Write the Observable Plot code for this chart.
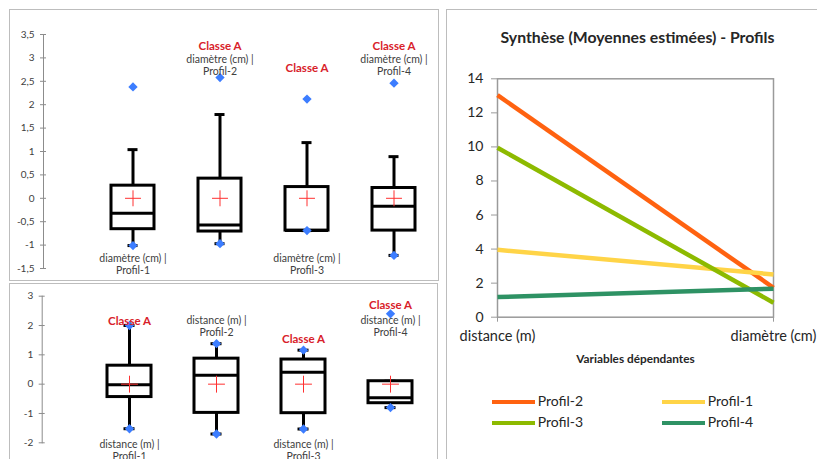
<!DOCTYPE html>
<html><head><meta charset="utf-8">
<script src="https://cdn.jsdelivr.net/npm/d3@7"></script>
<script src="https://cdn.jsdelivr.net/npm/@observablehq/plot@0.6"></script>
<style>
body{margin:0;background:#fff;}
#root{position:relative;width:817px;height:459px;overflow:hidden;font-family:Lato,"Open Sans",sans-serif;}
.panel{position:absolute;border:1px solid #bdbdbd;box-sizing:border-box;}
.abs{position:absolute;}
.leg{position:absolute;font-size:14px;color:#262626;line-height:16px;}
.sw{position:absolute;height:4px;}
</style></head><body><div id="root"></div>
<script>
const profiles = ["Profil-1","Profil-2","Profil-3","Profil-4"];

// Boîtes : diamètre (cm)
const diamLow    = [-1.01, -0.97, -0.69, -1.22];
const diamQ1     = [-0.66, -0.71, -0.69, -0.69];
const diamMedian = [-0.32, -0.57, -0.69, -0.17];
const diamQ3     = [ 0.27,  0.42,  0.24,  0.22];
const diamHigh   = [ 1.04,  1.79,  1.19,  0.89];
const diamMean   = [ 0, 0, 0, 0];
const diamMin    = [-1.01, -0.97, -0.69, -1.22];
const diamMax    = [ 2.38,  2.58,  2.12,  2.46];
const diamTicks  = [-1.5, -1, -0.5, 0, 0.5, 1, 1.5, 2, 2.5, 3, 3.5];

// Boîtes : distance (m)
const distLow    = [-1.52, -1.70, -1.53, -0.80];
const distQ1     = [-0.44, -0.98, -0.99, -0.65];
const distMedian = [-0.02,  0.30,  0.41, -0.46];
const distQ3     = [ 0.63,  0.87,  0.84,  0.10];
const distHigh   = [ 2.00,  1.38,  1.16,  0.10];
const distMean   = [ 0, 0, 0, 0];
const distMin    = [-1.52, -1.70, -1.53, -0.80];
const distMax    = [ 2.00,  1.38,  1.16,  2.40];
const distTicks  = [-2, -1, 0, 1, 2, 3];

// Labels
const classeText = "Classe A";
const diamClasseHigh = ["Profil-2", "Profil-4"];
const diamClasseLow  = ["Profil-3"];
const diamNameAbove  = ["Profil-2", "Profil-4"];
const diamNameBelow  = ["Profil-1", "Profil-3"];
const distClasseA = ["Profil-4"];
const distClasseB = ["Profil-1"];
const distClasseC = ["Profil-3"];
const distNameAbove = ["Profil-2", "Profil-4"];
const distNameBelow = ["Profil-1", "Profil-3"];

// Synthèse
const variables = ["distance (m)", "diamètre (cm)"];
const seriesNames = ["Profil-2", "Profil-1", "Profil-3", "Profil-4"];
const profil2 = [13.04, 1.73];
const profil1 = [3.96, 2.51];
const profil3 = [9.95, 0.85];
const profil4 = [1.18, 1.67];
const seriesColors = ["#FF6210", "#FFD447", "#8DBA00", "#2E9264"];
const synthTicks = [0, 2, 4, 6, 8, 10, 12, 14];
const synthTitle = "Synthèse (Moyennes estimées) - Profils";
const synthXTitle = "Variables dépendantes";

const root = document.getElementById("root");
const comma = d => String(d).replace(".", ",");
const FONT = "Lato, 'Open Sans', sans-serif";

function panel(l, t, w, h) {
  const d = document.createElement("div");
  d.className = "panel";
  Object.assign(d.style, {left: l + "px", top: t + "px", width: w + "px", height: h + "px"});
  root.appendChild(d);
}
panel(9, 9, 430, 272);
panel(9, 283, 429, 200);
panel(446, 9, 380, 480);

function place(node, l, t) {
  node.classList.add("abs");
  node.style.left = l + "px"; node.style.top = t + "px";
  root.appendChild(node);
}

function boxPlot(cfg) {
  const rows = profiles.map((p, i) => ({
    profile: p, low: cfg.low[i], q1: cfg.q1[i], median: cfg.median[i], q3: cfg.q3[i],
    high: cfg.high[i], mean: cfg.mean[i]
  }));
  const pts = profiles.flatMap((p, i) => [{profile: p, v: cfg.min[i]}, {profile: p, v: cfg.max[i]}]);
  const nameData = (list) => list.map(p => ({profile: p, t: `${cfg.varName} |\n${p}`}));
  const classe = (list, dy) => Plot.text(list, {x: d => d, text: () => classeText, frameAnchor: "top", dy,
    fill: "#D8212A", fontWeight: "bold", fontSize: 11.5});
  return Plot.plot({
    width: cfg.width, height: cfg.height,
    marginTop: cfg.mt, marginBottom: cfg.mb, marginLeft: cfg.ml, marginRight: 0,
    x: {type: "band", domain: profiles, range: cfg.xr, paddingInner: cfg.pad, paddingOuter: 0, axis: null},
    y: {domain: cfg.domain, label: null},
    style: {fontFamily: FONT, background: "transparent", overflow: "visible"},
    marks: [
      Plot.frame({anchor: "left", stroke: "#8c8c8c"}),
      Plot.axisY(cfg.ticks, {tickSize: 6, dx: 3, tickPadding: cfg.tp, tickFormat: comma, stroke: "#8c8c8c",
        fill: "#404040", fontSize: 10, label: null}),
      Plot.ruleX(rows, {x: "profile", y1: "low", y2: "high", stroke: "#000", strokeWidth: 3}),
      Plot.tickY(rows, {x: "profile", y: "high", stroke: "#000", strokeWidth: 3, insetLeft: 16.5, insetRight: 16.5}),
      Plot.tickY(rows, {x: "profile", y: "low", stroke: "#000", strokeWidth: 3, insetLeft: 16.5, insetRight: 16.5}),
      Plot.barY(rows, {x: "profile", y1: "q1", y2: "q3", fill: "#fff", stroke: "#000", strokeWidth: 3}),
      Plot.tickY(rows, {x: "profile", y: "median", stroke: "#000", strokeWidth: 3}),
      Plot.dot(rows, {x: "profile", y: "mean", symbol: "plus", r: cfg.plusR, stroke: "#FF3030", strokeWidth: 1}),
      Plot.dot(pts, {x: "profile", y: "v", symbol: "diamond2", r: 4.2, fill: "#3C7DFF", stroke: null}),
      ...cfg.classe.map(([list, dy]) => classe(list, dy)),
      Plot.text(nameData(cfg.above), {x: "profile", text: "t", frameAnchor: "top", dy: cfg.aboveDy,
        fill: "#404040", fontSize: 10.5, lineHeight: 1.15}),
      Plot.text(nameData(cfg.below), {x: "profile", text: "t", frameAnchor: "top", dy: cfg.belowDy,
        fill: "#404040", fontSize: 10.5, lineHeight: 1.15})
    ]
  });
}

const p1 = boxPlot({
  width: 429, height: 271, mt: 25, mb: 12, ml: 34, tp: 6, plusR: 5.2,
  xr: [100.5, 406.5], pad: 0.51, domain: [-1.5, 3.5], ticks: diamTicks,
  low: diamLow, q1: diamQ1, median: diamMedian, q3: diamQ3, high: diamHigh, mean: diamMean,
  min: diamMin, max: diamMax, varName: "diamètre (cm)",
  classe: [[diamClasseHigh, 7], [diamClasseLow, 29]],
  above: diamNameAbove, aboveDy: 19.5, below: diamNameBelow, belowDy: 219
});
place(p1, 9, 9);

const p2 = boxPlot({
  width: 428, height: 176, mt: 12.7, mb: 16.7, ml: 32.7, tp: 6, plusR: 5.5,
  xr: [97, 404], pad: 0.498, domain: [-2, 3], ticks: distTicks,
  low: distLow, q1: distQ1, median: distMedian, q3: distQ3, high: distHigh, mean: distMean,
  min: distMin, max: distMax, varName: "distance (m)",
  classe: [[distClasseA, 5], [distClasseB, 20.5], [distClasseC, 38.5]],
  above: distNameAbove, aboveDy: 19.3, below: distNameBelow, belowDy: 143.3
});
place(p2, 9, 283);

const seriesValues = [profil2, profil1, profil3, profil4];
const rows3 = seriesNames.flatMap((s, i) => variables.map((v, j) => ({serie: s, variable: v, value: seriesValues[i][j]})));
const p3 = Plot.plot({
  width: 371, height: 450, marginTop: 69.3, marginBottom: 142.3, marginLeft: 51, marginRight: 44,
  x: {type: "point", domain: variables, padding: 0, label: null},
  y: {domain: [0, 14], label: null},
  color: {domain: seriesNames, range: seriesColors},
  style: {fontFamily: FONT, background: "transparent", overflow: "visible"},
  marks: [
    Plot.frame({stroke: "#9a9a9a", strokeWidth: 1.5}),
    Plot.axisY(synthTicks, {tickSize: 6, tickPadding: 8, stroke: "#9a9a9a", fill: "#262626", fontSize: 14, label: null}),
    Plot.axisX({tickSize: 5, tickPadding: 9, stroke: "#9a9a9a", fill: "#262626", fontSize: 14.5, label: null}),
    Plot.line(rows3, {x: "variable", y: "value", z: "serie", stroke: "serie", strokeWidth: 4.5, strokeLinecap: "butt"}),
    Plot.text([synthTitle], {frameAnchor: "top", dy: -47, dx: 2, fontWeight: "bold", fontSize: 15.8, fill: "#262626"}),
    Plot.text([synthXTitle], {frameAnchor: "bottom", dy: 46, fontWeight: "bold", fontSize: 11.8, fill: "#262626"})
  ]
});
place(p3, 446, 9);

// Légende
const legendPos = [[491.7, 401.7], [661.7, 401.7], [491.7, 423.3], [661.7, 423.3]];
seriesNames.forEach((s, i) => {
  const [lx, ly] = legendPos[i];
  const sw = document.createElement("div");
  sw.className = "sw";
  Object.assign(sw.style, {left: lx + "px", top: (ly - 2) + "px", width: "43px", background: seriesColors[i]});
  root.appendChild(sw);
  const t = document.createElement("div");
  t.className = "leg";
  t.textContent = s;
  Object.assign(t.style, {left: (lx + 46) + "px", top: (ly - 9) + "px"});
  root.appendChild(t);
});
</script></body></html>
